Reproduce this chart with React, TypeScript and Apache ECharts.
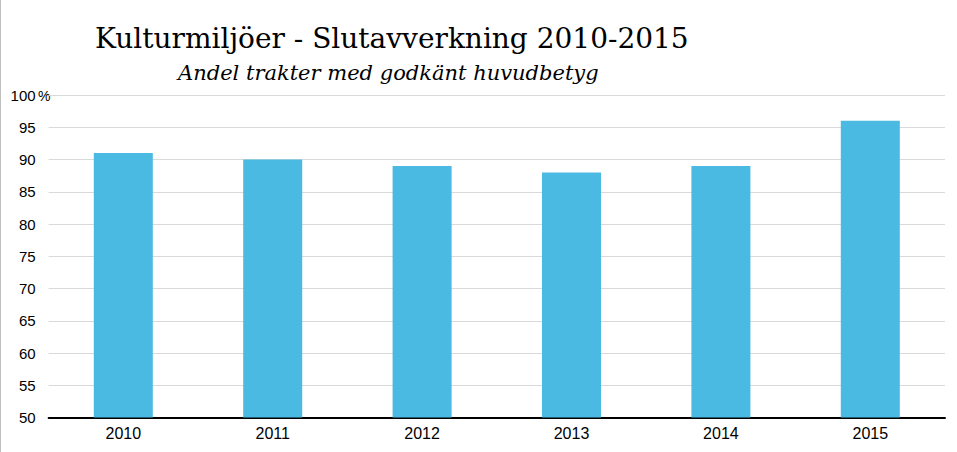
import React, { useEffect, useRef } from "react";
import * as echarts from "echarts";

const categories = ["2010", "2011", "2012", "2013", "2014", "2015"];
const values = [91, 90, 89, 88, 89, 96];
const titleText = "Kulturmiljöer - Slutavverkning 2010-2015";
const subtitleText = "Andel trakter med godkänt huvudbetyg";
const yMin = 50;
const yMax = 100;
const yStep = 5;

export default function App() {
  const ref = useRef<HTMLDivElement>(null);
  useEffect(() => {
    document.body.style.margin = "0";
    const chart = echarts.init(ref.current!, null, { renderer: "svg" });
    chart.setOption({
      animation: false,
      backgroundColor: "#ffffff",
      title: [
        {
          text: titleText,
          left: 95,
          top: 24,
          padding: 0,
          textStyle: { fontFamily: "DejaVu Serif", fontSize: 28, fontWeight: "normal", color: "#000" },
        },
        {
          text: subtitleText,
          left: 178,
          top: 62,
          padding: 0,
          textStyle: { fontFamily: "DejaVu Serif", fontSize: 21, fontStyle: "italic", fontWeight: "normal", color: "#000" },
        },
      ],
      graphic: [
        { type: "rect", left: 0, top: 0, shape: { width: 1, height: 452 }, style: { fill: "#c0c0c0" } },
        {
          type: "text",
          left: 38,
          top: 89,
          style: { text: "%", fontFamily: "Liberation Sans", fontSize: 14, fill: "#000" },
        },
      ],
      grid: { left: 48.6, right: 12, top: 95, bottom: 34.5, containLabel: false },
      xAxis: {
        type: "category",
        data: categories,
        axisLine: { lineStyle: { color: "#000", width: 2 } },
        axisTick: { show: false },
        axisLabel: { fontFamily: "Liberation Sans", fontSize: 16, color: "#000", margin: 8 },
      },
      yAxis: {
        type: "value",
        min: yMin,
        max: yMax,
        interval: yStep,
        axisLine: { show: false },
        axisTick: { show: false },
        splitLine: { lineStyle: { color: "#d9d9d9", width: 1 } },
        axisLabel: { fontFamily: "Liberation Sans", fontSize: 15, color: "#000", margin: 13 },
      },
      series: [
        {
          type: "bar",
          data: values,
          barWidth: "39.5%",
          itemStyle: { color: "#4bbae3" },
        },
      ],
    });
    return () => chart.dispose();
  }, []);
  return <div ref={ref} style={{ width: 957, height: 452 }} />;
}
